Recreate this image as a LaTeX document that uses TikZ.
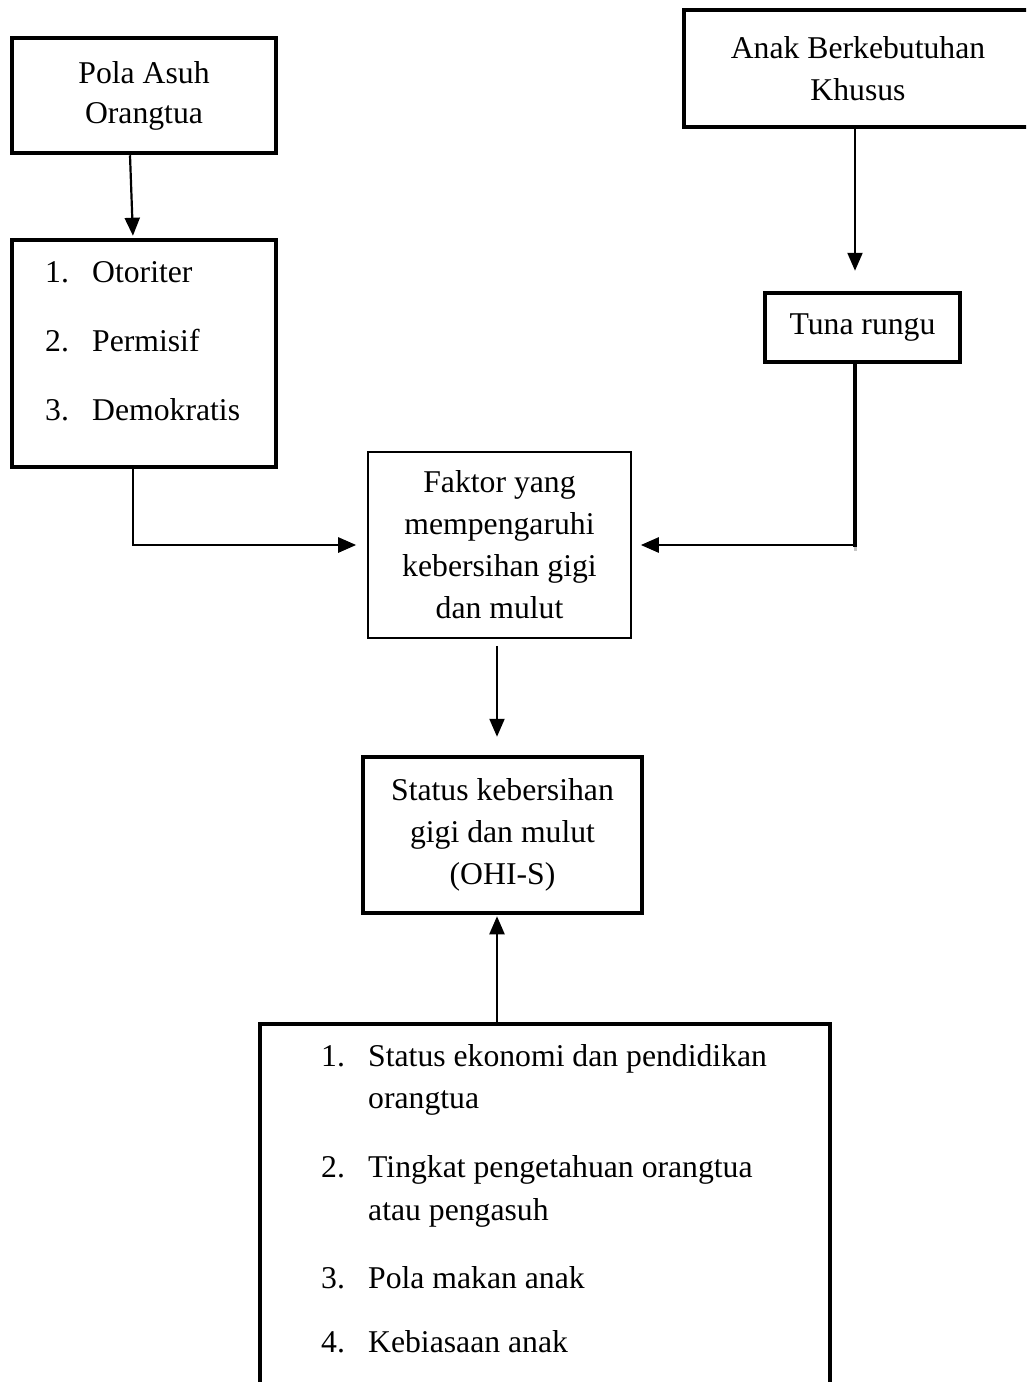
\documentclass[tikz,border=0pt]{standalone}
\usepackage{fontspec}
\setmainfont{Liberation Serif}
\usetikzlibrary{arrows.meta}
\begin{document}
\begin{tikzpicture}[x=1pt,y=-1pt,
  every node/.style={font=\fontsize{31.7}{42}\selectfont, inner sep=0pt},
  thickbox/.style={draw, line width=4.5pt, rectangle},
  thinbox/.style={draw, line width=1.6pt, rectangle},
  txt/.style={align=center},
  item/.style={anchor=base west},
  tip/.style={-{Triangle[length=18pt,width=15pt]}},
  arr/.style={line width=2.2pt, tip},
  conn/.style={line width=2.6pt}
]
\useasboundingbox (0,0) rectangle (1026,1382);
\clip (0,0) rectangle (1026,1382);

% boxes
\node[thickbox, txt, minimum width=264pt, minimum height=115pt, font=\fontsize{31.7}{40}\selectfont] (b1) at (144,95.5) {Pola Asuh\\Orangtua};
\node[thickbox, minimum width=264pt, minimum height=227pt] (b2) at (144,353.5) {};
\node[thickbox, txt, minimum width=348pt, minimum height=117pt] (anak) at (858,68.5) {Anak Berkebutuhan\\Khusus};
\node[thickbox, minimum width=195pt, minimum height=69pt] (tuna) at (862.5,327.5) {Tuna rungu};
\node[thinbox, txt, minimum width=263pt, minimum height=186pt] (b3) at (499.5,545) {Faktor yang\\mempengaruhi\\kebersihan gigi\\dan mulut};
\node[thickbox, txt, minimum width=279pt, minimum height=156pt] (b4) at (502.5,835) {Status kebersihan\\gigi dan mulut\\(OHI-S)};
\node[thickbox, minimum width=570pt, minimum height=376pt] (b5) at (545,1212) {};

% list in box 2
\node[item] (o1) at (45,282) {\makebox[47pt][l]{1.}Otoriter};
\node[item] (o2) at (45,351) {\makebox[47pt][l]{2.}Permisif};
\node[item] (o3) at (45,420) {\makebox[47pt][l]{3.}Demokratis};

% list in box 5
\node[item] (f1) at (321,1066) {\makebox[47pt][l]{1.}Status ekonomi dan pendidikan};
\node[item] (f1b) at (368,1108) {orangtua};
\node[item] (f2) at (321,1177) {\makebox[47pt][l]{2.}Tingkat pengetahuan orangtua};
\node[item] (f2b) at (368,1220) {atau pengasuh};
\node[item] (f3) at (321,1288) {\makebox[47pt][l]{3.}Pola makan anak};
\node[item] (f4) at (321,1352) {\makebox[47pt][l]{4.}Kebiasaan anak};

% connectors
\draw[arr, shorten >=2pt] ([xshift=-14pt]b1.south) -- ([xshift=-11pt]b2.north);
\draw[conn, tip, shorten >=11pt] ([xshift=-11pt]b2.south) |- (b3.west);
\draw[arr, shorten >=20pt] ([xshift=-3pt]anak.south) -- ([xshift=-7.5pt]tuna.north);
\coordinate (tj) at (855,545);
\draw[gray!45, line width=3pt] (tj) -- (855,551);
\draw[line width=4.5pt] ([xshift=-7.5pt]tuna.south) -- ([yshift=-1.5pt]tj);
\draw[conn, tip, shorten >=9pt] ([xshift=2pt]tj) -- (b3.east);
\draw[arr, shorten >=18pt] ([xshift=-2.5pt,yshift=-7pt]b3.south) -- ([xshift=-5.5pt]b4.north);
\draw[arr, shorten >=1pt] ([xshift=-48pt]b5.north) -- ([xshift=-5.5pt]b4.south);
\end{tikzpicture}
\end{document}
